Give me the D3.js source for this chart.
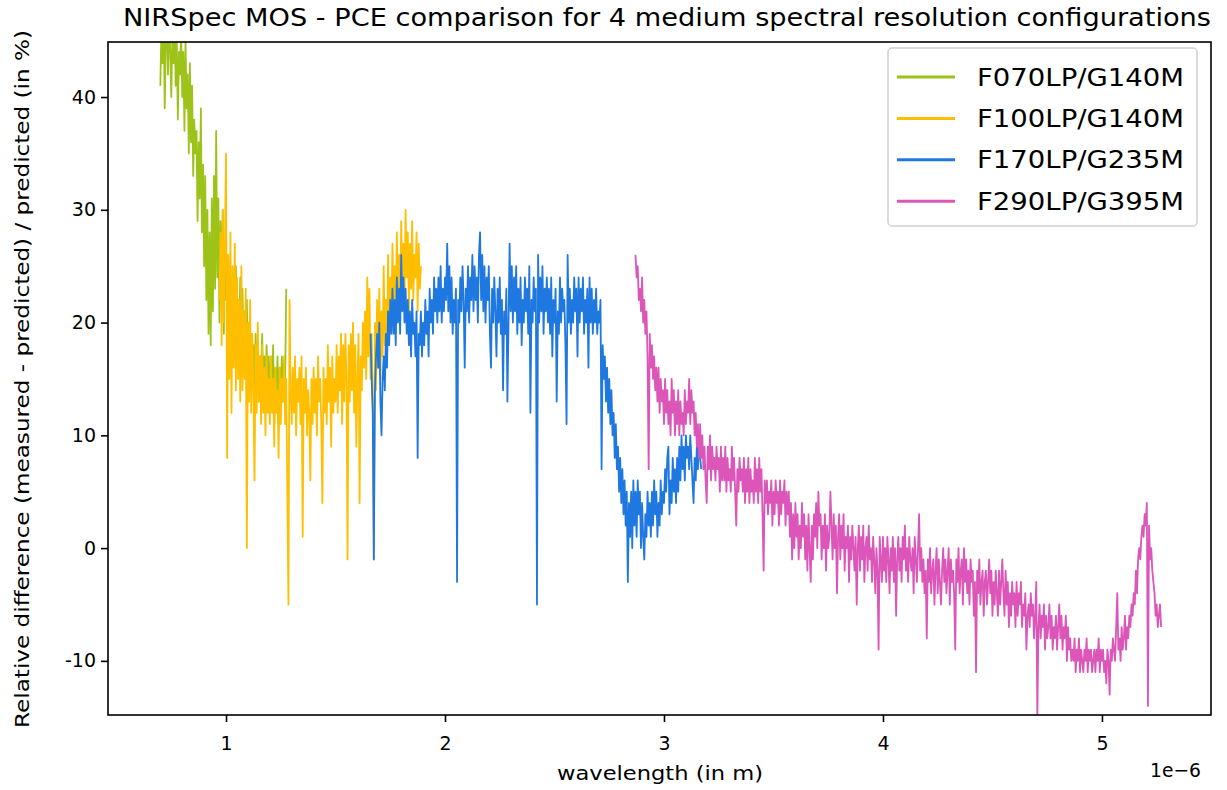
<!DOCTYPE html>
<html>
<head>
<meta charset="utf-8">
<script src="https://cdn.jsdelivr.net/npm/d3@7"></script>
<style>
  html, body { margin: 0; padding: 0; background: #fff; }
  svg text { font-family: 'DejaVu Sans', sans-serif; fill: #000; }
</style>
</head>
<body>
<div id="chart"></div>
<script>
// Series names, colours and wavelength grid (micrometres, one value every 0.005)
var seriesNames = ['F070LP/G140M', 'F100LP/G140M', 'F170LP/G235M', 'F290LP/G395M']
var seriesColors = ['#9dc319', '#ffbe00', '#1f78e0', '#dc55b9']
var waveStart = [0.70, 0.97, 1.66, 2.87]
var waveStep = 0.005

// Relative difference (in %), one row = 0.1 micrometre
var f070Values = [
  41, 46, 43, 48, 39, 45, 47, 42, 48, 44, 40, 46, 43, 47, 41, 45, 38, 44, 42, 46,
  40, 44, 37, 45, 39, 42, 35, 43, 36, 41, 33, 38, 35, 37, 29, 36, 31, 39, 28, 34,
  25, 33, 22, 30, 19, 28, 18, 31, 21, 33, 23, 37, 24, 31, 20, 29, 23, 30, 19, 27,
  22, 26, 19, 25, 21, 24, 18, 23, 20, 25, 17, 22, 19, 24, 18, 23, 17, 21, 19, 22,
  16, 20, 15, 19, 17, 18, 14, 19, 16, 18, 13, 17, 15, 19, 14, 17, 13, 18, 15, 17,
  12, 17, 14, 18, 11, 16, 13, 17, 12, 16, 14, 17, 13, 16, 15, 23]

var f100Values = [
  22, 28, 18, 30, 20, 27,
  35, 8, 26, 15, 28, 12, 25, 16, 27, 14, 24, 15, 22, 13, 25, 14, 21, 15, 23, 0,
  20, 13, 22, 12, 19, 14, 6, 18, 12, 20, 13, 17, 11, 18, 12, 16, 10, 17, 12, 15,
  11, 17, 12, 15, 9, 16, 12, 14, 8, 16, 11, 15, 13, 17, 11, 15, 5, -5, 22, 14,
  11, 16, 12, 17, 10, 15, 13, 16, 11, 17, 1, 15, 12, 16, 10, 14, 12, 6, 15, 11,
  16, 12, 15, 10, 17, 13, 15, 11, 4, 16, 12, 15, 11, 18, 13, 16, 9, 17, 12, 15,
  13, 18, 12, 17, 14, 19, 11, 18, 13, 19, 15, -1, 18, 13, 19, 14, 20, 12, 18, 9,
  15, 19, 4, 17, 14, 20, 16, 21, 15, 24, 17, 23, 15, 19, 13, -1, 20, 14, 22, 16,
  23, 15, 21, 17, 25, 18, 22, 17, 26, 19, 24, 20, 27, 21, 25, 20, 28, 22, 26, 21,
  29, 23, 27, 22, 30, 24, 28, 21, 27, 23, 29, 22, 26, 24, 28, 21, 27, 23, 25]

var f170Values = [
  19, 15, 12, -1, 14, 17, 19, 16, 20, 13, 10, 15, 17, 14, 19, 16, 21, 18, 22, 19,
  23, 19, 22, 18, 24, 20, 23, 19, 26, 21, 24, 20, 23, 19, 22, 18, 21, 17, 22, 19,
  20, 17, 21, 8, 19, 18, 21, 17, 20, 18, 22, 19, 21, 17, 23, 20, 22, 19, 24, 21,
  23, 20, 24, 21, 25, 20, 23, 21, 24, 22, 27, 21, 25, 20, 24, 19, 22, 20, 23, -3,
  22, 20, 24, 21, 25, 22, 16, 23, 21, 25, 20, 24, 22, 26, 21, 25, 22, 24, 20, 26,
  28, 22, 26, 21, 25, 20, 24, 22, 25, 19, 16, 23, 20, 24, 21, 17, 23, 20, 24, 19,
  22, 14, 21, 19, 23, 13, 20, 27, 21, 25, 20, 24, 21, 25, 19, 23, 20, 24, 18, 22,
  20, 24, 21, 23, 19, 25, 12, 22, 20, 24, 21, 23, -5, 26, 20, 24, 21, 25, 19, 23,
  21, 24, 20, 23, 19, 24, 17, 22, 20, 23, 13, 21, 19, 24, 20, 23, 21, 22, 18, 11,
  26, 20, 23, 19, 22, 20, 24, 21, 23, 17, 24, 20, 23, 21, 24, 19, 22, 20, 23, 16,
  24, 20, 23, 19, 22, 20, 23, 19, 21, 20, 22, 7, 18, 15, 17, 13, 16, 12, 15, 11,
  14, 10, 12, 8, 11, 7, 9, 5, 8, 4, 7, 3, 6, 2, 5, -3, 4, 1, 5, 0,
  6, 2, 5, 1, 6, 3, 5, 0, 4, 1, -1, 3, 1, 5, 2, 4, 1, 5, 2, 6,
  3, 5, 1, 4, 2, 6, 3, 5, 4, 7, 5, 8, 9, 3, 6, 4, 8, 5, 7, 4,
  8, 5, 9, 6, 10, 7, 9, 6, 10, 8, 9, 7, 10, 8, 6, 4, 8, 6, 9, 7,
  10, 8, 7]

var f290Values = [
  26, 24, 25, 22, 23, 21, 24, 20, 22, 19, 21, 17, 7, 19, 16, 18, 15, 17, 14, 16,
  13, 16, 12, 15, 13, 14, 11, 15, 12, 14, 11, 13, 10, 15, 12, 14, 10, 13, 11, 14,
  10, 13, 11, 12, 10, 14, 11, 13, 12, 15, 11, 14, 12, 13, 10, 12, 9, 11, 8, 11,
  8, 10, 7, 9, 6, 4, 9, 7, 10, 6, 9, 7, 8, 6, 9, 7, 8, 5, 9, 6,
  8, 6, 9, 5, 8, 6, 7, 5, 9, 6, 8, 5, 2, 7, 5, 8, 6, 7, 5, 8,
  4, 7, 5, 8, 4, 7, 5, 6, 4, 8, 5, 7, 4, 8, 5, 7, 3, -2, 6, 4,
  6, 3, 5, 4, 6, 2, 5, 3, 6, 4, 5, 2, 6, 3, 5, 4, 6, 2, 5, 3,
  5, 1, 4, -1, 3, 0, 4, 1, 3, -1, 2, 0, 4, 1, 3, -1, 2, -2, 3, 0,
  -3, 2, -1, 3, 1, 4, 0, 5, 2, 3, -1, 2, 0, 3, -2, 2, 0, 1, 5, 2,
  -1, 3, 0, 2, -4, 1, 3, -1, 2, 0, 3, -2, 1, 0, 2, -3, 1, -1, 2, 0,
  -2, 1, -5, 0, 2, -2, 1, -1, 2, -3, 0, 1, -2, 2, -1, 0, -3, 1, -1, -4,
  0, -2, -9, 1, -1, -3, 1, -2, 0, -3, 1, -1, -4, 0, -2, 1, -3, 0, -6, -1,
  1, -2, 0, -3, 1, -1, 2, -2, 0, -3, 1, -1, -2, 0, -4, 1, -1, -3, 0, 3,
  -2, 0, -3, -1, -4, -2, -8, -1, -3, 0, -4, -2, -1, -5, -2, 0, -4, -1, -3, -5,
  -2, 0, -3, -1, -4, -2, 0, -5, -1, -3, -2, -4, -9, -1, -3, 0, -4, -2, -1, -5,
  0, -3, -1, -4, -2, -5, -1, -3, -2, -6, -3, -11, -2, -4, -1, -5, -3, -2, -6, -3,
  -2, -5, -3, -1, -4, -2, -6, -3, -5, -2, -4, -6, -2, -5, -3, -1, -4, -6, -2, -5,
  -3, -7, -4, -6, -3, -5, -4, -7, -3, -6, -4, -5, -3, -7, -5, -6, -4, -9, -6, -5,
  -7, -4, -6, -5, -8, -6, -3, -15, -7, -5, -8, -6, -7, -5, -9, -6, -8, -7, -5, -8,
  -6, -9, -7, -8, -6, -9, -7, -5, -8, -6, -9, -7, -8, -6, -10, -7, -9, -8, -10, -9,
  -10, -8, -11, -9, -10, -8, -11, -9, -10, -11, -9, -10, -8, -11, -9, -10, -9, -11, -10, -9,
  -11, -9, -10, -8, -11, -9, -10, -9, -11, -10, -12, -9, -10, -13, -9, -10, -8, -9, -10, -7,
  -4, -9, -8, -10, -7, -9, -8, -6, -9, -7, -8, -6, -7, -5, -6, -4, -5, -2, -4, -1,
  0, -1, 1, 2, 1, 3, 2, 4, -14, 2, -1, 0, -2, -3, -4, -6, -5, -7, -6, -5,
  -7]

var seriesValues = [f070Values, f100Values, f170Values, f290Values]

// Axis ticks
var xTickValues = [1, 2, 3, 4, 5]
var yTickValues = [-10, 0, 10, 20, 30, 40]

;(function () {
  'use strict'

  // Dimensions and stuff
  var width = 1227
  var height = 790
  var left = 108
  var right = 1211
  var top = 42
  var bottom = 715

  var xScale = d3.scaleLinear().domain([0.461e-6, 5.498e-6]).range([left, right])
  var yScale = d3.scaleLinear().domain([-14.8, 44.88]).range([bottom, top])

  var svg = d3.select('#chart').append('svg')
    .attr('width', width)
    .attr('height', height)

  svg.append('defs').append('clipPath')
    .attr('id', 'plot-clip')
    .append('rect')
    .attr('x', left)
    .attr('y', top)
    .attr('width', right - left)
    .attr('height', bottom - top)

  // Build line data from the grid + values
  var series = seriesNames.map(function (name, k) {
    return {
      name: name,
      color: seriesColors[k],
      points: seriesValues[k].map(function (v, i) {
        return { x: (waveStart[k] + i * waveStep) * 1e-6, y: v }
      })
    }
  })

  var line = d3.line()
    .x(function (d) { return xScale(d.x) })
    .y(function (d) { return yScale(d.y) })

  svg.append('g')
    .attr('clip-path', 'url(#plot-clip)')
    .selectAll('path')
    .data(series)
    .enter().append('path')
    .attr('d', function (d) { return line(d.points) })
    .attr('fill', 'none')
    .attr('stroke', function (d) { return d.color })
    .attr('stroke-width', 1.8)
    .attr('stroke-linejoin', 'round')

  // Axes
  var xAxis = d3.axisBottom(xScale)
    .tickValues(xTickValues.map(function (v) { return v * 1e-6 }))
    .tickFormat(function (d) { return String(Math.round(d * 1e6)) })
    .tickSize(7)
    .tickPadding(15)

  var yAxis = d3.axisLeft(yScale)
    .tickValues(yTickValues)
    .tickFormat(function (d) { return String(d) })
    .tickSize(7)
    .tickPadding(5)

  var gx = svg.append('g')
    .attr('transform', 'translate(0,' + bottom + ')')
    .call(xAxis)

  var gy = svg.append('g')
    .attr('transform', 'translate(' + left + ',0)')
    .call(yAxis)

  ;[gx, gy].forEach(function (g) {
    g.select('.domain').remove()
    g.selectAll('.tick line').attr('stroke', '#000').attr('stroke-width', 1.6)
    g.selectAll('.tick text')
      .style('font-family', "'DejaVu Sans', sans-serif")
      .style('font-size', '19px')
      .attr('fill', '#000')
  })

  // Spines
  svg.append('rect')
    .attr('x', left)
    .attr('y', top)
    .attr('width', right - left)
    .attr('height', bottom - top)
    .attr('fill', 'none')
    .attr('stroke', '#000')
    .attr('stroke-width', 1.6)

  // Title and labels (text is a bit wider than plain DejaVu in the picture)
  svg.append('text')
    .attr('x', 667)
    .attr('y', 26)
    .attr('text-anchor', 'middle')
    .attr('textLength', 1088)
    .attr('lengthAdjust', 'spacingAndGlyphs')
    .style('font-size', '24px')
    .text('NIRSpec MOS - PCE comparison for 4 medium spectral resolution configurations')

  svg.append('text')
    .attr('x', 660)
    .attr('y', 780)
    .attr('text-anchor', 'middle')
    .attr('textLength', 206)
    .attr('lengthAdjust', 'spacingAndGlyphs')
    .style('font-size', '20px')
    .text('wavelength (in m)')

  svg.append('text')
    .attr('x', 1150)
    .attr('y', 777)
    .attr('textLength', 51)
    .attr('lengthAdjust', 'spacingAndGlyphs')
    .style('font-size', '20px')
    .text('1e\u22126')

  svg.append('text')
    .attr('transform', 'translate(29,379) rotate(-90)')
    .attr('text-anchor', 'middle')
    .attr('textLength', 698)
    .attr('lengthAdjust', 'spacingAndGlyphs')
    .style('font-size', '20px')
    .text('Relative difference (measured - predicted) / predicted (in %)')

  // Legend
  var legend = svg.append('g')

  legend.append('rect')
    .attr('x', 888)
    .attr('y', 48)
    .attr('width', 309)
    .attr('height', 178)
    .attr('rx', 4)
    .attr('fill', '#fff')
    .attr('fill-opacity', 0.8)
    .attr('stroke', '#d0d0d0')
    .attr('stroke-width', 1.5)

  var item = legend.selectAll('g.item')
    .data(series)
    .enter().append('g')
    .attr('class', 'item')
    .attr('transform', function (d, i) { return 'translate(0,' + (77 + i * 41.4) + ')' })

  item.append('line')
    .attr('x1', 897)
    .attr('x2', 955)
    .attr('stroke', function (d) { return d.color })
    .attr('stroke-width', 3)

  item.append('text')
    .attr('x', 977)
    .attr('y', 8.5)
    .attr('textLength', 207)
    .attr('lengthAdjust', 'spacingAndGlyphs')
    .style('font-size', '24px')
    .text(function (d) { return d.name })
}())
</script>
</body>
</html>
